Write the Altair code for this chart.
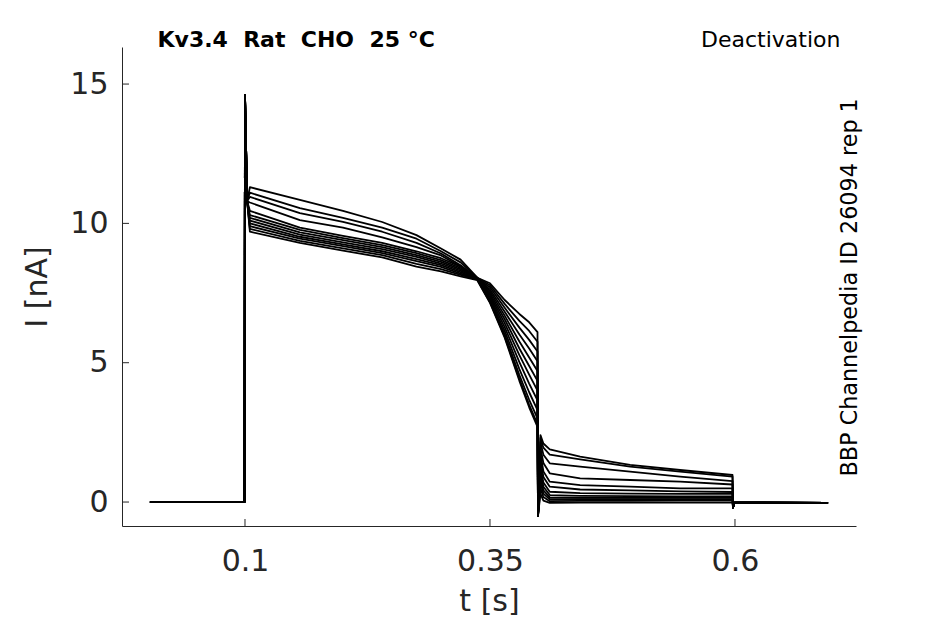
import altair as alt
import pandas as pd

# time points (s)
time_pts = [0.003, 0.0995, 0.1, 0.1022, 0.105, 0.156, 0.2, 0.24, 0.275, 0.3, 0.32, 0.337,
            0.35, 0.365, 0.38, 0.39, 0.3985, 0.399, 0.4015, 0.4045,
            0.411, 0.442, 0.493, 0.544, 0.5975, 0.598, 0.5995, 0.695]

# shared onset (baseline, capacitive spike)
pre_vals = [0.0, 0.0, 14.6, 10.8]

# first step (t = 0.105 ... 0.337)
step_vals = [
    [11.3, 10.84, 10.45, 10.05, 9.58, 9.1, 8.7, 8.05],
    [11.1, 10.55, 10.2, 9.85, 9.45, 9.0, 8.6, 8.05],
    [10.95, 10.37, 10.05, 9.7, 9.3, 8.92, 8.5, 8.03],
    [10.75, 10.12, 9.85, 9.5, 9.15, 8.85, 8.45, 8.02],
    [10.45, 9.85, 9.55, 9.3, 9.0, 8.75, 8.45, 8.05],
    [10.3, 9.77, 9.47, 9.22, 8.93, 8.68, 8.4, 8.04],
    [10.2, 9.68, 9.4, 9.15, 8.86, 8.62, 8.35, 8.03],
    [10.1, 9.6, 9.32, 9.08, 8.8, 8.56, 8.3, 8.02],
    [10.0, 9.52, 9.25, 9.0, 8.72, 8.5, 8.25, 8.01],
    [9.9, 9.45, 9.18, 8.93, 8.65, 8.44, 8.2, 8.0],
    [9.8, 9.37, 9.1, 8.86, 8.55, 8.36, 8.15, 7.98],
    [9.7, 9.3, 9.02, 8.78, 8.45, 8.28, 8.1, 7.96],
]

# late part of first step (t = 0.35 ... 0.3985)
fan_vals = [
    [7.85, 7.25, 6.75, 6.45, 6.1],
    [7.78, 7.11, 6.50, 6.14, 5.75],
    [7.71, 6.97, 6.26, 5.82, 5.4],
    [7.63, 6.83, 6.01, 5.51, 5.05],
    [7.56, 6.69, 5.76, 5.19, 4.7],
    [7.49, 6.56, 5.51, 4.88, 4.35],
    [7.42, 6.42, 5.27, 4.57, 4.0],
    [7.35, 6.28, 5.02, 4.25, 3.65],
    [7.27, 6.14, 4.77, 3.94, 3.3],
    [7.21, 6.02, 4.56, 3.67, 3.0],
    [7.17, 5.94, 4.42, 3.49, 2.8],
    [7.15, 5.9, 4.35, 3.4, 2.7],
]

# capacitive dip at the second step
dip_val = -0.5

# fast tail component (t = 0.4015, 0.4045)
fast_vals = [
    [2.4, 2.1], [2.3, 1.95], [2.15, 1.7], [1.95, 1.4], [1.75, 1.1], [1.55, 0.9],
    [1.3, 0.7], [1.1, 0.55], [0.9, 0.42], [0.7, 0.3], [0.5, 0.18], [0.3, 0.05],
]

# slow tail (t = 0.411 ... 0.5975)
tail_vals = [
    [1.89, 1.63, 1.33, 1.15, 0.97],
    [1.7, 1.53, 1.27, 1.09, 0.91],
    [1.39, 1.27, 1.09, 0.91, 0.75],
    [1.03, 0.85, 0.79, 0.73, 0.63],
    [0.73, 0.61, 0.55, 0.49, 0.49],
    [0.55, 0.45, 0.42, 0.38, 0.36],
    [0.37, 0.32, 0.3, 0.29, 0.29],
    [0.25, 0.22, 0.21, 0.2, 0.2],
    [0.17, 0.15, 0.15, 0.15, 0.15],
    [0.1, 0.1, 0.1, 0.1, 0.1],
    [0.03, 0.04, 0.04, 0.05, 0.05],
    [-0.03, -0.02, -0.02, -0.02, -0.02],
]

# return to holding
post_vals = [-0.2, -0.02, -0.03]

x_ticks = [0.1, 0.35, 0.6]
y_ticks = [0, 5, 10, 15]

rows = []
for k in range(len(step_vals)):
    vals = pre_vals + step_vals[k] + fan_vals[k] + [dip_val] + fast_vals[k] + tail_vals[k] + post_vals
    for t, v in zip(time_pts, vals):
        rows.append({"t": t, "I": v, "trace": k})
df = pd.DataFrame(rows)

W, H = 734, 479
AX = "#262626"

xscale = alt.Scale(domain=[-0.0255, 0.7235], nice=False, zero=False)
yscale = alt.Scale(domain=[-0.86, 16.33], nice=False, zero=False)

lines = alt.Chart(df).mark_line(color="black", strokeWidth=1.8, strokeJoin="round").encode(
    x=alt.X("t:Q", scale=xscale,
            axis=alt.Axis(values=x_ticks, format="~g", title="t [s]", ticks=False,
                          labelPadding=20, titlePadding=10)),
    y=alt.Y("I:Q", scale=yscale,
            axis=alt.Axis(values=y_ticks, title="I [nA]", ticks=False,
                          labelPadding=14, titlePadding=17)),
    detail="trace:N",
)

xt = alt.Chart(pd.DataFrame({"t": x_ticks})).mark_rule(color=AX, strokeWidth=1).encode(
    x=alt.X("t:Q", scale=xscale), y=alt.value(H), y2=alt.value(H - 7))
yt = alt.Chart(pd.DataFrame({"I": y_ticks})).mark_rule(color=AX, strokeWidth=1).encode(
    y=alt.Y("I:Q", scale=yscale), x=alt.value(0), x2=alt.value(7))

title_txt = alt.Chart(pd.DataFrame({"s": ["Kv3.4\u00a0\u00a0Rat\u00a0\u00a0CHO\u00a0\u00a025\u00a0°C"]})).mark_text(
    align="left", baseline="alphabetic", fontSize=22, fontWeight="bold", color="black",
    font="DejaVu Sans").encode(text="s:N", x=alt.value(35.5), y=alt.value(0))
deact_txt = alt.Chart(pd.DataFrame({"s": ["Deactivation"]})).mark_text(
    align="right", baseline="alphabetic", fontSize=22, color="black",
    font="DejaVu Sans").encode(text="s:N", x=alt.value(718.5), y=alt.value(0))
id_txt = alt.Chart(pd.DataFrame({"s": ["BBP Channelpedia ID 26094 rep 1"]})).mark_text(
    align="left", baseline="alphabetic", fontSize=22.3, color="black", angle=270,
    font="DejaVu Sans").encode(text="s:N", x=alt.value(735), y=alt.value(429.5))

chart = alt.layer(lines, xt, yt, title_txt, deact_txt, id_txt).properties(
    width=W, height=H, autosize="none",
    padding={"left": 114, "top": 39, "right": 60, "bottom": 96},
).configure(font="DejaVu Sans", background="white").configure_view(
    stroke=None
).configure_axis(
    grid=False, domainColor=AX, domainWidth=1, labelFont="DejaVu Sans", labelFontSize=30,
    labelColor=AX, titleFont="DejaVu Sans", titleFontSize=30, titleFontWeight="normal",
    titleColor=AX,
)

chart.save("out.html", embed_options={"renderer": "svg", "actions": False})
